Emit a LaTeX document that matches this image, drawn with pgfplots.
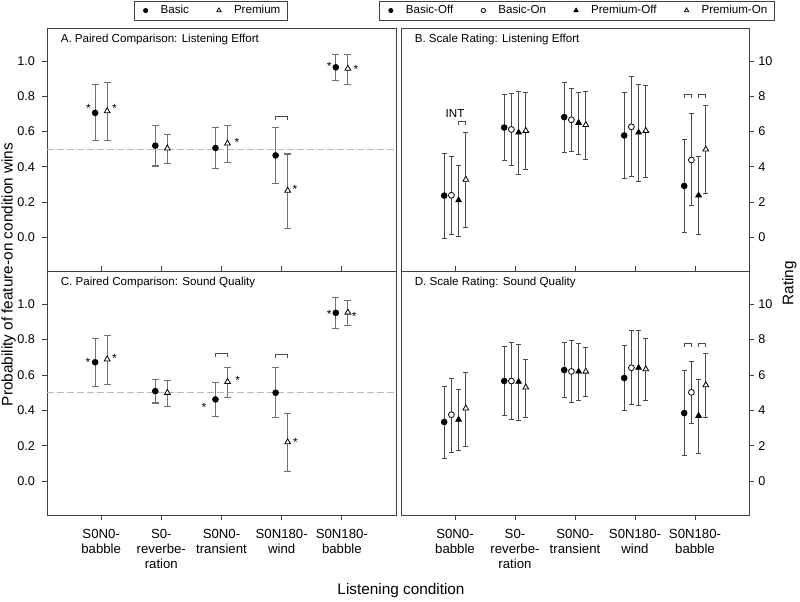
\documentclass[border=0pt]{standalone}
\usepackage{fontspec}
\setmainfont{Liberation Sans}
\usepackage{pgfplots}
\usepackage{pgfplotstable}
\pgfplotsset{compat=1.18}

\definecolor{colEA}{HTML}{707070}
\definecolor{colEB}{HTML}{4A4A4A}
\definecolor{colFrame}{HTML}{404040}

% paired comparison: g, Basic (y, hi, lo), Premium (y, hi, lo)
\pgfplotstableread{
g by    bhi   blo   py    phi   plo
1 0.706 0.866 0.548 0.716 0.876 0.548
2 0.520 0.633 0.405 0.505 0.586 0.418
3 0.507 0.625 0.390 0.533 0.637 0.424
4 0.465 0.621 0.307 0.266 0.473 0.051
5 0.964 1.038 0.887 0.957 1.038 0.868
}\tabA
\pgfplotstableread{
g by    bhi   blo   py    phi   plo
1 0.672 0.808 0.534 0.689 0.821 0.547
2 0.509 0.577 0.442 0.500 0.570 0.423
3 0.462 0.557 0.368 0.562 0.640 0.475
4 0.500 0.643 0.358 0.221 0.381 0.053
5 0.951 1.036 0.864 0.953 1.019 0.877
}\tabC
% scale rating: a=Basic-Off, b=Basic-On, c=Premium-Off, d=Premium-On
\pgfplotstableread{
g a    ahi  alo   b    bhi  blo  c    chi  clo  d    dhi  dlo
1 2.37 4.78 -0.08 2.39 4.60 0.17 2.11 4.09 0.06 3.28 5.93 0.58
2 6.23 8.12 4.35  6.12 8.15 4.07 5.95 8.25 3.56 6.05 8.21 3.86
3 6.82 8.81 4.82  6.67 8.46 4.86 6.50 8.21 4.69 6.38 8.29 4.44
4 5.78 8.23 3.33  6.27 9.10 3.47 5.95 8.68 3.15 6.05 8.63 3.41
5 2.92 5.54 0.30  4.39 7.02 1.79 2.39 4.61 0.15 4.99 7.48 2.47
}\tabB
\pgfplotstableread{
g a    ahi  alo   b    bhi  blo  c    chi  clo  d    dhi  dlo
1 3.35 5.36 1.30  3.76 5.83 1.64 3.48 5.19 1.73 4.12 6.15 1.99
2 5.66 7.63 3.70  5.66 7.84 3.50 5.62 7.73 3.46 5.30 6.90 3.63
3 6.28 7.84 4.72  6.20 7.95 4.44 6.20 7.80 4.55 6.20 7.56 4.81
4 5.83 7.65 4.02  6.41 8.50 4.32 6.41 8.50 4.29 6.33 8.06 4.57
5 3.85 6.26 1.47  5.02 6.77 3.27 3.70 5.77 1.58 5.43 7.20 3.63
}\tabD

\tikzset{
  sig/.style={font=\fontsize{9}{10}\selectfont, inner sep=0pt, yshift=-1.9pt},
  brk/.style={colEB, line width=0.7pt},
}

\pgfplotsset{
  panel/.style={scale only axis, width=261.75pt,
    xmin=0.1, xmax=5.9, xtick={1,2,3,4,5}, xtick pos=left,
    axis line style={colFrame, line width=0.6pt},
    tick style={colFrame, line width=0.6pt}, major tick length=3.5pt,
    tick align=outside, clip=false,
    /pgf/number format/assume math mode=true,
    tick label style={font=\fontsize{9.5}{11}\selectfont},
    xticklabel style={align=center, font=\fontsize{9.9}{11.25}\selectfont, yshift=-3.75pt},
    legend columns=-1,
    legend image code/.code={\path[draw=none, fill=none] (-3pt,0pt) rectangle (11.25pt,0.1pt); \draw[##1] plot coordinates {(0pt,0pt)};},
    legend style={draw=colFrame, line width=0.6pt, anchor=north,
      font=\fontsize{8.7}{10}\selectfont, inner xsep=5.5pt, inner ysep=1.3pt,
      nodes={inner xsep=0pt, inner ysep=2pt, text depth=0.15em},
      /tikz/every even column/.append style={column sep=19.5pt}},
  },
  leftp/.style={panel, ymin=-0.19, ymax=1.187, ytick={0,0.2,0.4,0.6,0.8,1},
    ytick pos=left,
    yticklabel style={xshift=-2pt, /pgf/number format/fixed, /pgf/number format/fixed zerofill,
      /pgf/number format/precision=1}},
  rightp/.style={panel, ymin=-1.9, ymax=11.87, ytick={0,2,4,6,8,10},
    ytick pos=right, yticklabel pos=right},
  basicoff/.style={only marks, mark=*, mark size=2.2pt, mark options={fill=black, draw=black, line width=0.5pt}},
  basicon/.style={only marks, mark=*, mark size=2.2pt, mark options={fill=white, draw=black, line width=0.6pt}},
  premoff/.style={only marks, mark=triangle*, mark size=2.5pt, mark options={fill=black, draw=black, line width=0.5pt}},
  premon/.style={only marks, mark=triangle*, mark size=2.5pt, mark options={fill=white, draw=black, line width=0.6pt}},
  errA/.style={/pgfplots/error bars/y dir=both, /pgfplots/error bars/y explicit,
    /pgfplots/error bars/error bar style={colEA, line width=0.8pt},
    /pgfplots/error bars/error mark options={rotate=90, colEA, mark size=2.6pt, line width=0.8pt}},
  errB/.style={/pgfplots/error bars/y dir=both, /pgfplots/error bars/y explicit,
    /pgfplots/error bars/error bar style={colEB, line width=0.6pt},
    /pgfplots/error bars/error mark options={rotate=90, colEB, mark size=1.8pt, line width=0.6pt}},
  refline/.style={gray!55, line width=0.8pt, dash pattern=on 5pt off 2.5pt, forget plot},
}

\begin{document}
\begin{tikzpicture}
\useasboundingbox (0pt,0pt) rectangle (600pt,451.5pt);

% ---------- A ----------
\begin{axis}[leftp, at={(35.25pt,248.25pt)}, anchor=south west, height=182.25pt,
  xticklabels={}, xtick style={yshift=3.5pt},
  legend style={at={(0.47,1.113)}}]
\addlegendimage{basicoff, mark size=1.6pt}\addlegendentry{Basic}
\addlegendimage{premon, mark size=1.9pt}\addlegendentry{Premium}
\addplot[refline] coordinates {(0.1,0.5) (5.9,0.5)};
\addplot[basicoff, forget plot, errA] table[x expr=\thisrow{g}-0.1, y=by,
  y error plus expr=\thisrow{bhi}-\thisrow{by}, y error minus expr=\thisrow{by}-\thisrow{blo}] {\tabA};
\addplot[premon, forget plot, errA] table[x expr=\thisrow{g}+0.1, y=py,
  y error plus expr=\thisrow{phi}-\thisrow{py}, y error minus expr=\thisrow{py}-\thisrow{plo}] {\tabA};
\node[anchor=west, font=\fontsize{8.7}{10}\selectfont] at (rel axis cs:0.026,0.953) {A. Paired Comparison: Listening Effort};
\node[sig] at (axis cs:0.79,0.744) {*};
\node[sig] at (axis cs:1.22,0.744) {*};
\node[sig] at (axis cs:3.255,0.556) {*};
\node[sig] at (axis cs:4.22,0.288) {*};
\node[sig] at (axis cs:4.79,0.985) {*};
\node[sig] at (axis cs:5.233,0.966) {*};
\draw[brk] (axis cs:3.9,0.665) -- (axis cs:3.9,0.684) -- (axis cs:4.1,0.684) -- (axis cs:4.1,0.665);
\end{axis}

% ---------- C ----------
\begin{axis}[leftp, at={(35.25pt,65.25pt)}, anchor=south west, height=183pt,
  xticklabels={{S0N0-\\babble},{S0-\\reverbe-\\ration},{S0N0-\\transient},{S0N180-\\wind},{S0N180-\\babble}}]
\addplot[refline] coordinates {(0.1,0.5) (5.9,0.5)};
\addplot[basicoff, forget plot, errA] table[x expr=\thisrow{g}-0.1, y=by,
  y error plus expr=\thisrow{bhi}-\thisrow{by}, y error minus expr=\thisrow{by}-\thisrow{blo}] {\tabC};
\addplot[premon, forget plot, errA] table[x expr=\thisrow{g}+0.1, y=py,
  y error plus expr=\thisrow{phi}-\thisrow{py}, y error minus expr=\thisrow{py}-\thisrow{plo}] {\tabC};
\node[anchor=west, font=\fontsize{8.7}{10}\selectfont] at (rel axis cs:0.026,0.953) {C. Paired Comparison: Sound Quality};
\node[sig] at (axis cs:0.78,0.683) {*};
\node[sig] at (axis cs:1.22,0.706) {*};
\node[sig] at (axis cs:2.71,0.434) {*};
\node[sig] at (axis cs:3.27,0.583) {*};
\node[sig] at (axis cs:4.23,0.236) {*};
\node[sig] at (axis cs:4.79,0.957) {*};
\node[sig] at (axis cs:5.205,0.947) {*};
\draw[brk] (axis cs:2.9,0.700) -- (axis cs:2.9,0.721) -- (axis cs:3.1,0.721) -- (axis cs:3.1,0.700);
\draw[brk] (axis cs:3.9,0.695) -- (axis cs:3.9,0.715) -- (axis cs:4.1,0.715) -- (axis cs:4.1,0.695);
\end{axis}

% ---------- B ----------
\begin{axis}[rightp, at={(300.75pt,248.25pt)}, anchor=south west, width=261pt, height=182.25pt,
  xticklabels={}, xtick style={yshift=3.5pt},
  legend style={at={(0.506,1.113)}}]
\addlegendimage{basicoff, mark size=1.6pt}\addlegendentry{Basic-Off}
\addlegendimage{basicon, mark size=1.6pt}\addlegendentry{Basic-On}
\addlegendimage{premoff, mark size=1.9pt}\addlegendentry{Premium-Off}
\addlegendimage{premon, mark size=1.9pt}\addlegendentry{Premium-On}
\addplot[basicoff, forget plot, errB] table[x expr=\thisrow{g}-0.18, y=a,
  y error plus expr=\thisrow{ahi}-\thisrow{a}, y error minus expr=\thisrow{a}-\thisrow{alo}] {\tabB};
\addplot[basicon, forget plot, errB] table[x expr=\thisrow{g}-0.06, y=b,
  y error plus expr=\thisrow{bhi}-\thisrow{b}, y error minus expr=\thisrow{b}-\thisrow{blo}] {\tabB};
\addplot[premoff, forget plot, errB] table[x expr=\thisrow{g}+0.06, y=c,
  y error plus expr=\thisrow{chi}-\thisrow{c}, y error minus expr=\thisrow{c}-\thisrow{clo}] {\tabB};
\addplot[premon, forget plot, errB] table[x expr=\thisrow{g}+0.18, y=d,
  y error plus expr=\thisrow{dhi}-\thisrow{d}, y error minus expr=\thisrow{d}-\thisrow{dlo}] {\tabB};
\node[anchor=west, font=\fontsize{8.7}{10}\selectfont] at (rel axis cs:0.026,0.953) {B. Scale Rating: Listening Effort};
\node[font=\fontsize{8.7}{10}\selectfont, inner sep=0pt] at (axis cs:1.0,7.02) {INT};
\draw[brk] (axis cs:1.06,6.40) -- (axis cs:1.06,6.59) -- (axis cs:1.18,6.59) -- (axis cs:1.18,6.40);
\draw[brk] (axis cs:4.82,7.90) -- (axis cs:4.82,8.10) -- (axis cs:4.94,8.10) -- (axis cs:4.94,7.90);
\draw[brk] (axis cs:5.06,7.90) -- (axis cs:5.06,8.10) -- (axis cs:5.18,8.10) -- (axis cs:5.18,7.90);
\end{axis}

% ---------- D ----------
\begin{axis}[rightp, at={(300.75pt,65.25pt)}, anchor=south west, width=261pt, height=183pt,
  xticklabels={{S0N0-\\babble},{S0-\\reverbe-\\ration},{S0N0-\\transient},{S0N180-\\wind},{S0N180-\\babble}}]
\addplot[basicoff, forget plot, errB] table[x expr=\thisrow{g}-0.18, y=a,
  y error plus expr=\thisrow{ahi}-\thisrow{a}, y error minus expr=\thisrow{a}-\thisrow{alo}] {\tabD};
\addplot[basicon, forget plot, errB] table[x expr=\thisrow{g}-0.06, y=b,
  y error plus expr=\thisrow{bhi}-\thisrow{b}, y error minus expr=\thisrow{b}-\thisrow{blo}] {\tabD};
\addplot[premoff, forget plot, errB] table[x expr=\thisrow{g}+0.06, y=c,
  y error plus expr=\thisrow{chi}-\thisrow{c}, y error minus expr=\thisrow{c}-\thisrow{clo}] {\tabD};
\addplot[premon, forget plot, errB] table[x expr=\thisrow{g}+0.18, y=d,
  y error plus expr=\thisrow{dhi}-\thisrow{d}, y error minus expr=\thisrow{d}-\thisrow{dlo}] {\tabD};
\node[anchor=west, font=\fontsize{8.7}{10}\selectfont] at (rel axis cs:0.026,0.953) {D. Scale Rating: Sound Quality};
\draw[brk] (axis cs:4.82,7.60) -- (axis cs:4.82,7.80) -- (axis cs:4.94,7.80) -- (axis cs:4.94,7.60);
\draw[brk] (axis cs:5.06,7.60) -- (axis cs:5.06,7.80) -- (axis cs:5.18,7.80) -- (axis cs:5.18,7.60);
\end{axis}

% shared labels
\node[rotate=90, font=\fontsize{11.5}{13}\selectfont] at (6.5pt,245.6pt) {Probability of feature-on condition wins};
\node[rotate=90, font=\fontsize{11.5}{13}\selectfont] at (592pt,239pt) {Rating};
\node[font=\fontsize{11.5}{13}\selectfont] at (300.75pt,8.5pt) {Listening condition};
\end{tikzpicture}
\end{document}
